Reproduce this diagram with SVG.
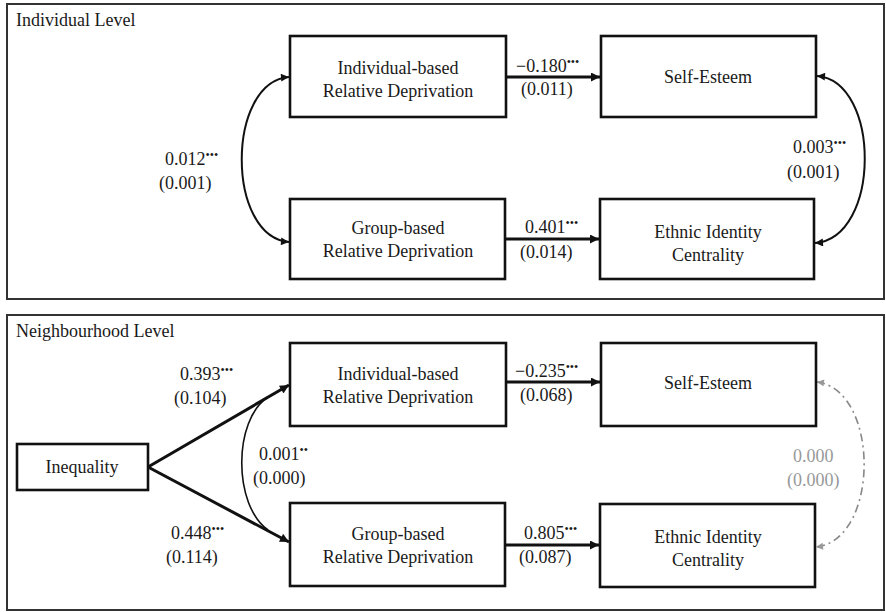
<svg xmlns="http://www.w3.org/2000/svg" width="886" height="612" viewBox="0 0 886 612">
<style>
.panel{fill:#fff;stroke:#333;stroke-width:2}
.box{fill:#fff;stroke:#111;stroke-width:2.6}
text{font-family:'Liberation Serif','Times New Roman',Times,'DejaVu Serif',serif;font-size:18px;fill:#1a1a1a}
.c{text-anchor:middle}
.g{fill:#999}
.sup{font-size:12px}
.path{fill:none;stroke:#111;stroke-width:3}
.cov{fill:none;stroke:#111;stroke-width:2}
.dash{fill:none;stroke:#888;stroke-width:1.6;stroke-dasharray:8 4 2 4}
</style>
<defs>
<marker id="ah" viewBox="0 0 10 10" refX="10" refY="5" markerWidth="11" markerHeight="9" markerUnits="userSpaceOnUse" orient="auto-start-reverse"><path d="M0,0 L10,5 L0,10 z" fill="#111"/></marker>
<marker id="ahs" viewBox="0 0 10 10" refX="10" refY="5" markerWidth="9" markerHeight="8" markerUnits="userSpaceOnUse" orient="auto-start-reverse"><path d="M0,0 L10,5 L0,10 z" fill="#111"/></marker>
<marker id="ahg" viewBox="0 0 10 10" refX="10" refY="5" markerWidth="8" markerHeight="7" markerUnits="userSpaceOnUse" orient="auto-start-reverse"><path d="M0,0 L10,5 L0,10 z" fill="#999"/></marker>
</defs>
<rect width="886" height="612" fill="#fff"/>
<g id="panel-individual">
<rect class="panel" x="7" y="4" width="877" height="295"/>
<text x="16" y="26">Individual Level</text>
</g>
<g id="panel-neighbourhood">
<rect class="panel" x="7" y="315" width="877" height="295"/>
<text x="16" y="337">Neighbourhood Level</text>
</g>
<g id="connectors">
<line class="path" x1="506" y1="77" x2="600" y2="77" marker-end="url(#ah)"/>
<line class="path" x1="505" y1="239" x2="599" y2="239" marker-end="url(#ah)"/>
<path class="cov" d="M289 77 C226 82,226 237,289 242" marker-start="url(#ahs)" marker-end="url(#ahs)"/>
<path class="cov" d="M817 76 C881 81,881 238,815 243" marker-start="url(#ahs)" marker-end="url(#ahs)"/>
<line class="path" x1="506" y1="382" x2="600" y2="382" marker-end="url(#ah)"/>
<line class="path" x1="505" y1="545" x2="599" y2="545" marker-end="url(#ah)"/>
<line class="path" x1="148" y1="467" x2="289" y2="385" marker-end="url(#ah)"/>
<line class="path" x1="148" y1="467" x2="289" y2="542" marker-end="url(#ah)"/>
<path class="cov" d="M268 397 C233 420,233 505,268 530" style="stroke-width:1.6"/>
<path class="dash" d="M817 382 C880 390,880 540,816 547" marker-start="url(#ahg)" marker-end="url(#ahg)"/>
<text x="516" y="72">−0.180<tspan class="sup" dy="-6">•••</tspan></text>
<text x="521" y="95">(0.011)</text>
<text x="525" y="233">0.401<tspan class="sup" dy="-6">•••</tspan></text>
<text x="520" y="258">(0.014)</text>
<text x="165" y="165">0.012<tspan class="sup" dy="-6">•••</tspan></text>
<text x="159" y="189">(0.001)</text>
<text x="793" y="153">0.003<tspan class="sup" dy="-6">•••</tspan></text>
<text x="787" y="178">(0.001)</text>
<text x="515" y="377">−0.235<tspan class="sup" dy="-6">•••</tspan></text>
<text x="520" y="401">(0.068)</text>
<text x="524" y="539">0.805<tspan class="sup" dy="-6">•••</tspan></text>
<text x="519" y="563">(0.087)</text>
<text x="180" y="380">0.393<tspan class="sup" dy="-6">•••</tspan></text>
<text x="174" y="404">(0.104)</text>
<text x="171" y="539">0.448<tspan class="sup" dy="-6">•••</tspan></text>
<text x="166" y="563">(0.114)</text>
<text x="259" y="460">0.001<tspan class="sup" dy="-6">••</tspan></text>
<text x="253" y="484">(0.000)</text>
<text class="g" x="793" y="462">0.000</text>
<text class="g" x="787" y="486">(0.000)</text>
</g>
<g id="ind-ird">
<rect class="box" x="290" y="36" width="216" height="81"/>
<text class="c" x="398" y="74">Individual-based</text>
<text class="c" x="398" y="97">Relative Deprivation</text>
</g>
<g id="ind-se">
<rect class="box" x="601" y="36" width="215" height="81"/>
<text class="c" x="708" y="83">Self-Esteem</text>
</g>
<g id="ind-grd">
<rect class="box" x="290" y="199" width="215" height="80"/>
<text class="c" x="398" y="234">Group-based</text>
<text class="c" x="398" y="257">Relative Deprivation</text>
</g>
<g id="ind-eic">
<rect class="box" x="600" y="199" width="214" height="80"/>
<text class="c" x="708" y="238">Ethnic Identity</text>
<text class="c" x="708" y="261">Centrality</text>
</g>
<g id="nb-ineq">
<rect class="box" x="17" y="444" width="131" height="46"/>
<text class="c" x="82" y="473">Inequality</text>
</g>
<g id="nb-ird">
<rect class="box" x="290" y="343" width="216" height="83"/>
<text class="c" x="398" y="380">Individual-based</text>
<text class="c" x="398" y="403">Relative Deprivation</text>
</g>
<g id="nb-se">
<rect class="box" x="601" y="343" width="215" height="83"/>
<text class="c" x="708" y="389">Self-Esteem</text>
</g>
<g id="nb-grd">
<rect class="box" x="290" y="503" width="215" height="83"/>
<text class="c" x="398" y="540">Group-based</text>
<text class="c" x="398" y="563">Relative Deprivation</text>
</g>
<g id="nb-eic">
<rect class="box" x="600" y="504" width="215" height="83"/>
<text class="c" x="708" y="543">Ethnic Identity</text>
<text class="c" x="708" y="566">Centrality</text>
</g>
</svg>
